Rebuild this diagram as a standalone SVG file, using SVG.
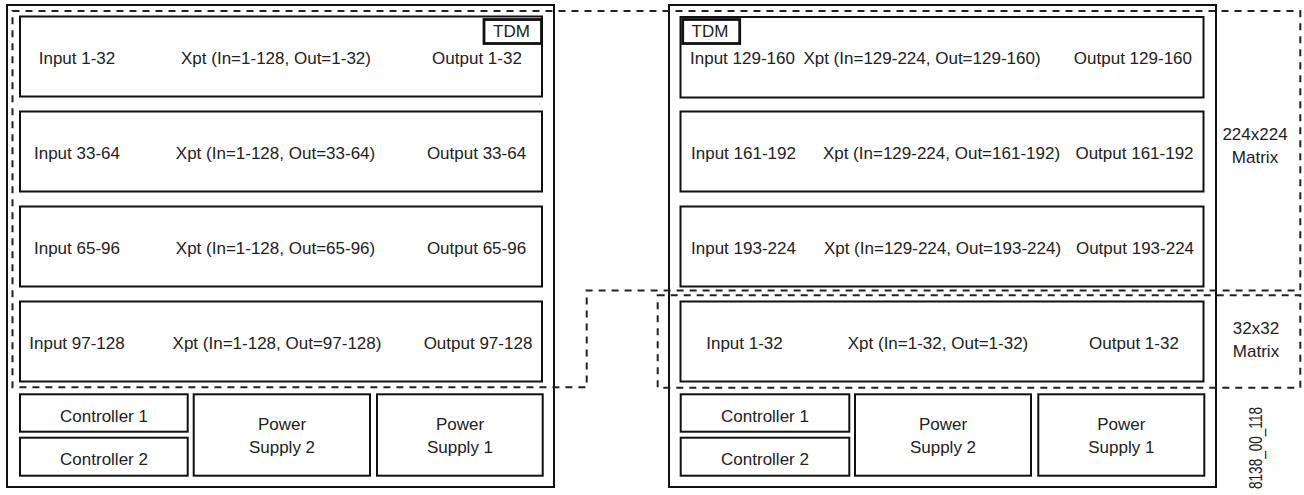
<svg xmlns="http://www.w3.org/2000/svg" width="1304" height="495" viewBox="0 0 1304 495">
<style>
  .chassis { fill: #fff; stroke: #111; stroke-width: 2; }
  .mod { fill: #fff; stroke: #111; stroke-width: 2; }
  .tdm { fill: #fff; stroke: #111; stroke-width: 2.8; }
  .dash { fill: none; stroke: #222; stroke-width: 2; stroke-dasharray: 7 6; }
  text { font-family: "Liberation Sans", Arial, sans-serif; font-size: 17px; fill: #222; text-anchor: middle; }
  .st { text-anchor: start; }
  .en { text-anchor: end; }
</style>
<rect width="1304" height="495" fill="#fff"/>

<g id="left-chassis">
  <rect class="chassis" x="7" y="5" width="547" height="482"/>
</g>
<g id="right-chassis">
  <rect class="chassis" x="669" y="5" width="547" height="482"/>
</g>

<!-- Left chassis rows -->
<g id="L-row1">
  <rect class="mod" x="20" y="16.5" width="522" height="80"/>
  <text x="77" y="64">Input 1-32</text>
  <text x="276" y="64">Xpt (In=1-128, Out=1-32)</text>
  <text x="477" y="64">Output 1-32</text>
</g>
<g id="L-tdm">
  <rect class="tdm" x="484" y="19.5" width="57.5" height="24"/>
  <text x="511.5" y="37">TDM</text>
</g>
<g id="L-row2">
  <rect class="mod" x="20" y="111.5" width="522" height="80"/>
  <text x="77" y="158.5">Input 33-64</text>
  <text x="275.5" y="158.5">Xpt (In=1-128, Out=33-64)</text>
  <text x="476.5" y="158.5">Output 33-64</text>
</g>
<g id="L-row3">
  <rect class="mod" x="20" y="206.5" width="522" height="80"/>
  <text x="77" y="253.5">Input 65-96</text>
  <text x="275.5" y="253.5">Xpt (In=1-128, Out=65-96)</text>
  <text x="476.5" y="253.5">Output 65-96</text>
</g>
<g id="L-row4">
  <rect class="mod" x="20" y="301.5" width="522" height="80"/>
  <text x="77" y="348.5">Input 97-128</text>
  <text x="277" y="348.5">Xpt (In=1-128, Out=97-128)</text>
  <text x="478" y="348.5">Output 97-128</text>
</g>
<g id="L-ctrl1">
  <rect class="mod" x="20" y="394.3" width="167.7" height="37.4"/>
  <text x="104" y="422">Controller 1</text>
</g>
<g id="L-ctrl2">
  <rect class="mod" x="20" y="437.7" width="167.7" height="38"/>
  <text x="104" y="465">Controller 2</text>
</g>
<g id="L-ps2">
  <rect class="mod" x="193.7" y="394.3" width="176.3" height="81.4"/>
  <text x="282" y="430">Power</text>
  <text x="282" y="453">Supply 2</text>
</g>
<g id="L-ps1">
  <rect class="mod" x="377" y="394.3" width="165.7" height="81.4"/>
  <text x="460" y="430">Power</text>
  <text x="460" y="453">Supply 1</text>
</g>

<!-- Right chassis rows -->
<g id="R-row1">
  <rect class="mod" x="680.5" y="17" width="523" height="80.5"/>
  <text class="st" x="690" y="64">Input 129-160</text>
  <text x="922" y="64">Xpt (In=129-224, Out=129-160)</text>
  <text class="en" x="1192" y="64">Output 129-160</text>
</g>
<g id="R-tdm">
  <rect class="tdm" x="682.7" y="19.5" width="57" height="24"/>
  <text x="710" y="37">TDM</text>
</g>
<g id="R-row2">
  <rect class="mod" x="680.5" y="111.5" width="523" height="80"/>
  <text x="743.5" y="158.5">Input 161-192</text>
  <text x="941.5" y="158.5">Xpt (In=129-224, Out=161-192)</text>
  <text x="1134.5" y="158.5">Output 161-192</text>
</g>
<g id="R-row3">
  <rect class="mod" x="680.5" y="206.5" width="523" height="80"/>
  <text x="743.5" y="253.5">Input 193-224</text>
  <text x="942.5" y="253.5">Xpt (In=129-224, Out=193-224)</text>
  <text x="1135" y="253.5">Output 193-224</text>
</g>
<g id="R-row4">
  <rect class="mod" x="680.5" y="301.5" width="523" height="80"/>
  <text x="744.5" y="349">Input 1-32</text>
  <text x="938" y="349">Xpt (In=1-32, Out=1-32)</text>
  <text x="1134" y="349">Output 1-32</text>
</g>
<g id="R-ctrl1">
  <rect class="mod" x="680.7" y="394.3" width="168.6" height="37.4"/>
  <text x="765" y="422">Controller 1</text>
</g>
<g id="R-ctrl2">
  <rect class="mod" x="680.7" y="437.7" width="168.6" height="38"/>
  <text x="765" y="465">Controller 2</text>
</g>
<g id="R-ps2">
  <rect class="mod" x="855" y="394.3" width="176" height="81.4"/>
  <text x="943" y="430">Power</text>
  <text x="943" y="453">Supply 2</text>
</g>
<g id="R-ps1">
  <rect class="mod" x="1038.3" y="394.3" width="166" height="81.4"/>
  <text x="1121.3" y="430">Power</text>
  <text x="1121.3" y="453">Supply 1</text>
</g>

<!-- Matrix region outlines -->
<g id="connectors">
  <path class="dash" d="M12.5,11 H1300.3 V290.5 H586.7 V387.3 H12.5 Z"/>
  <path class="dash" d="M657.7,295.3 H1300.3 V387.7 H657.7 Z"/>
</g>

<g id="label-224">
  <text x="1255" y="140">224x224</text>
  <text x="1255" y="163">Matrix</text>
</g>
<g id="label-32">
  <text x="1256" y="334">32x32</text>
  <text x="1256" y="357">Matrix</text>
</g>
<g id="fig-id">
  <text transform="translate(1262,448) rotate(-90)" x="0" y="0" style="font-size:18px" textLength="82" lengthAdjust="spacingAndGlyphs">8138_00_118</text>
</g>
</svg>
